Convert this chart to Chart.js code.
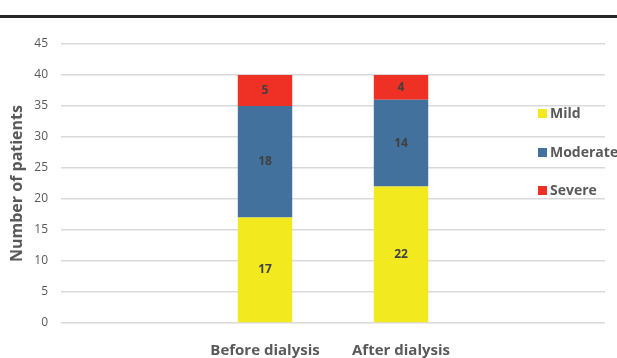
<!DOCTYPE html>
<html>
<head>
<meta charset="utf-8">
<script src="https://cdn.jsdelivr.net/npm/chart.js@4"></script>
<style>
  body { margin: 0; background: #fff; }
  .wrap { position: relative; width: 617px; height: 358px; }
  .topline { position: absolute; left: 0; top: 15px; width: 617px; height: 3px; background: #262626; }
</style>
</head>
<body>
<div class="wrap">
  <canvas id="chart" width="617" height="358"></canvas>
  <div class="topline"></div>
</div>
<script>
// categories (first and last are empty slots)
const categories = ['', 'Before dialysis', 'After dialysis', ''];
const mild = [null, 17, 22, null];
const moderate = [null, 18, 14, null];
const severe = [null, 5, 4, null];
const yTicks = [0, 5, 10, 15, 20, 25, 30, 35, 40, 45];

const textGray = '#595959';
const fontFamily = '"Open Sans", sans-serif';

// values written inside each segment
const segmentLabels = {
    id: 'segmentLabels',
    afterDatasetsDraw(chart) {
        const ctx = chart.ctx;
        ctx.save();
        ctx.font = 'bold 12px ' + fontFamily;
        ctx.fillStyle = '#404040';
        ctx.textAlign = 'center';
        ctx.textBaseline = 'middle';
        chart.data.datasets.forEach((ds, i) => {
            chart.getDatasetMeta(i).data.forEach((bar, j) => {
                if (ds.data[j] == null) return;
                const mid = (bar.y + bar.base) / 2;
                ctx.fillText(ds.data[j], bar.x, mid);
            });
        });
        ctx.restore();
    }
};

// legend drawn on the right, over the plot
const sideLegend = {
    id: 'sideLegend',
    afterDraw(chart) {
        const ctx = chart.ctx;
        const rows = [114, 153, 191];
        ctx.save();
        ctx.font = 'bold 14px ' + fontFamily;
        ctx.textBaseline = 'middle';
        chart.data.datasets.forEach((ds, i) => {
            ctx.fillStyle = ds.backgroundColor;
            ctx.fillRect(538, rows[i] - 5, 9, 9);
            ctx.fillStyle = textGray;
            ctx.fillText(ds.label, 550, rows[i]);
        });
        ctx.restore();
    }
};

new Chart(document.getElementById('chart'), {
    type: 'bar',
    data: {
        labels: categories,
        datasets: [
            { label: 'Mild', data: mild, backgroundColor: '#F2EA1E' },
            { label: 'Moderate', data: moderate, backgroundColor: '#41719C' },
            { label: 'Severe', data: severe, backgroundColor: '#EE3124' }
        ]
    },
    options: {
        responsive: false,
        animation: false,
        layout: { padding: { top: 44, right: 12, left: 8, bottom: 0 } },
        datasets: {
            bar: { categoryPercentage: 1, barPercentage: 0.4, borderWidth: 0 }
        },
        plugins: {
            legend: { display: false },
            tooltip: { enabled: false }
        },
        scales: {
            x: {
                stacked: true,
                grid: { display: false, drawTicks: false },
                border: { display: false },
                ticks: {
                    color: textGray,
                    padding: 19,
                    font: { family: fontFamily, size: 15, weight: 'bold' }
                },
                afterFit(scale) { scale.height = 35; }
            },
            y: {
                stacked: true,
                min: 0,
                max: 45,
                afterBuildTicks(scale) { scale.ticks = yTicks.map(v => ({ value: v })); },
                grid: { color: '#D9D9D9', lineWidth: 1.5, drawTicks: false },
                border: { display: false },
                ticks: {
                    color: textGray,
                    padding: 13,
                    font: { family: fontFamily, size: 12 }
                },
                title: {
                    display: true,
                    text: 'Number of patients',
                    color: textGray,
                    padding: 0,
                    font: { family: fontFamily, size: 16, weight: 'bold' }
                },
                afterFit(scale) { scale.width = 53; }
            }
        }
    },
    plugins: [segmentLabels, sideLegend]
});
</script>
</body>
</html>
